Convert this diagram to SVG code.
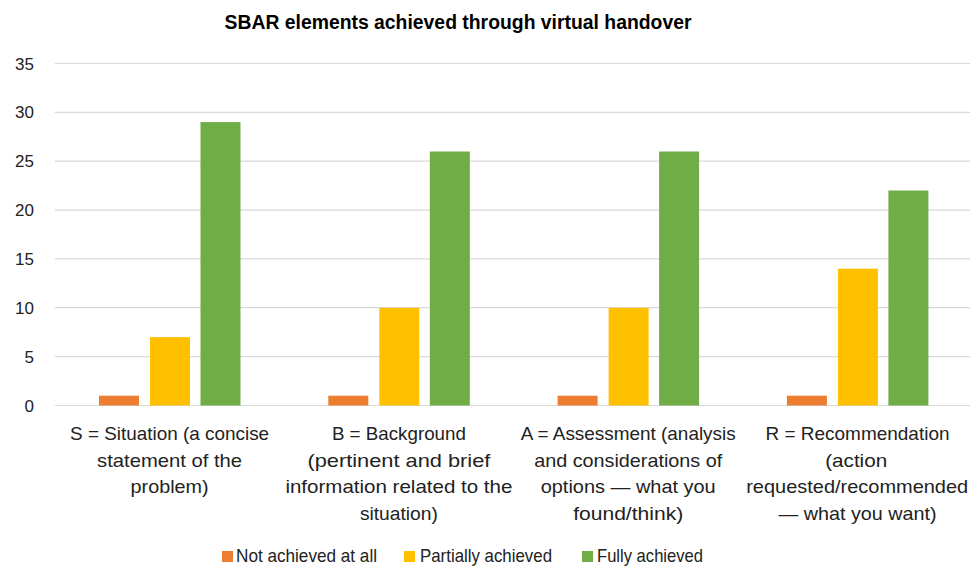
<svg xmlns="http://www.w3.org/2000/svg" width="970" height="567" viewBox="0 0 970 567">
<style>
.grid{stroke:#D9D9D9;stroke-width:1.2;fill:none}
.t{font-family:"Liberation Sans",Arial,sans-serif;fill:#222}
.title{font-size:20px;font-weight:bold;fill:#000}
.ax{font-size:17px;text-anchor:end}
.cat{font-size:18.5px;text-anchor:middle}
.leg{font-size:18.5px}
.o{fill:#ED7D31}.y{fill:#FFC000}.g{fill:#70AD47}
</style>
<rect width="970" height="567" fill="#fff"/>
<text class="t title" x="458" y="29" text-anchor="middle" textLength="467" lengthAdjust="spacingAndGlyphs">SBAR elements achieved through virtual handover</text>
<g id="gridlines">
<line class="grid" x1="55" x2="970" y1="63.5" y2="63.5"/>
<line class="grid" x1="55" x2="970" y1="112.4" y2="112.4"/>
<line class="grid" x1="55" x2="970" y1="161.2" y2="161.2"/>
<line class="grid" x1="55" x2="970" y1="210.1" y2="210.1"/>
<line class="grid" x1="55" x2="970" y1="258.9" y2="258.9"/>
<line class="grid" x1="55" x2="970" y1="307.7" y2="307.7"/>
<line class="grid" x1="55" x2="970" y1="356.6" y2="356.6"/>
<line class="grid" x1="55" x2="970" y1="405.5" y2="405.5"/>
</g>
<g id="y-axis">
<text class="t ax" x="34" y="69.5">35</text>
<text class="t ax" x="34" y="118.4">30</text>
<text class="t ax" x="34" y="167.2">25</text>
<text class="t ax" x="34" y="216.1">20</text>
<text class="t ax" x="34" y="264.9">15</text>
<text class="t ax" x="34" y="313.7">10</text>
<text class="t ax" x="34" y="362.6">5</text>
<text class="t ax" x="34" y="411.5">0</text>
</g>
<g id="cat-S">
<rect class="o" x="99" y="395.7" width="40" height="9.8"/>
<rect class="y" x="150" y="337.1" width="40" height="68.4"/>
<rect class="g" x="200.5" y="122.1" width="40" height="283.4"/>
<text class="t cat" x="169.6" y="440" textLength="199" lengthAdjust="spacingAndGlyphs">S = Situation (a concise</text>
<text class="t cat" x="169.6" y="466.7" textLength="145" lengthAdjust="spacingAndGlyphs">statement of the</text>
<text class="t cat" x="169.6" y="493.3" textLength="78" lengthAdjust="spacingAndGlyphs">problem)</text>
</g>
<g id="cat-B">
<rect class="o" x="328.3" y="395.7" width="40" height="9.8"/>
<rect class="y" x="379.3" y="307.8" width="40" height="97.7"/>
<rect class="g" x="429.8" y="151.5" width="40" height="254"/>
<text class="t cat" x="398.9" y="440" textLength="134" lengthAdjust="spacingAndGlyphs">B = Background</text>
<text class="t cat" x="398.9" y="466.7" textLength="183" lengthAdjust="spacingAndGlyphs">(pertinent and brief</text>
<text class="t cat" x="398.9" y="493.3" textLength="227" lengthAdjust="spacingAndGlyphs">information related to the</text>
<text class="t cat" x="398.9" y="519.5" textLength="78" lengthAdjust="spacingAndGlyphs">situation)</text>
</g>
<g id="cat-A">
<rect class="o" x="557.6" y="395.7" width="40" height="9.8"/>
<rect class="y" x="608.6" y="307.8" width="40" height="97.7"/>
<rect class="g" x="659.1" y="151.5" width="40" height="254"/>
<text class="t cat" x="628.2" y="440" textLength="215" lengthAdjust="spacingAndGlyphs">A = Assessment (analysis</text>
<text class="t cat" x="628.2" y="466.7" textLength="188" lengthAdjust="spacingAndGlyphs">and considerations of</text>
<text class="t cat" x="628.2" y="493.3" textLength="175" lengthAdjust="spacingAndGlyphs">options — what you</text>
<text class="t cat" x="628.2" y="519.5" textLength="110" lengthAdjust="spacingAndGlyphs">found/think)</text>
</g>
<g id="cat-R">
<rect class="o" x="786.9" y="395.7" width="40" height="9.8"/>
<rect class="y" x="837.9" y="268.7" width="40" height="136.8"/>
<rect class="g" x="888.4" y="190.5" width="40" height="215"/>
<text class="t cat" x="857.5" y="440" textLength="184" lengthAdjust="spacingAndGlyphs">R = Recommendation</text>
<text class="t cat" x="856.2" y="466.7" textLength="62" lengthAdjust="spacingAndGlyphs">(action</text>
<text class="t cat" x="857.2" y="493.3" textLength="222" lengthAdjust="spacingAndGlyphs">requested/recommended</text>
<text class="t cat" x="857.5" y="519.5" textLength="158" lengthAdjust="spacingAndGlyphs">— what you want)</text>
</g>
<g id="legend">
<rect class="o" x="222" y="551" width="11" height="11"/>
<text class="t leg" x="236" y="562" textLength="141" lengthAdjust="spacingAndGlyphs">Not achieved at all</text>
<rect class="y" x="404" y="551" width="11" height="11"/>
<text class="t leg" x="420" y="562" textLength="132" lengthAdjust="spacingAndGlyphs">Partially achieved</text>
<rect class="g" x="582" y="551" width="11" height="11"/>
<text class="t leg" x="597" y="562" textLength="106" lengthAdjust="spacingAndGlyphs">Fully achieved</text>
</g>
<g id="connectors"></g>
</svg>
